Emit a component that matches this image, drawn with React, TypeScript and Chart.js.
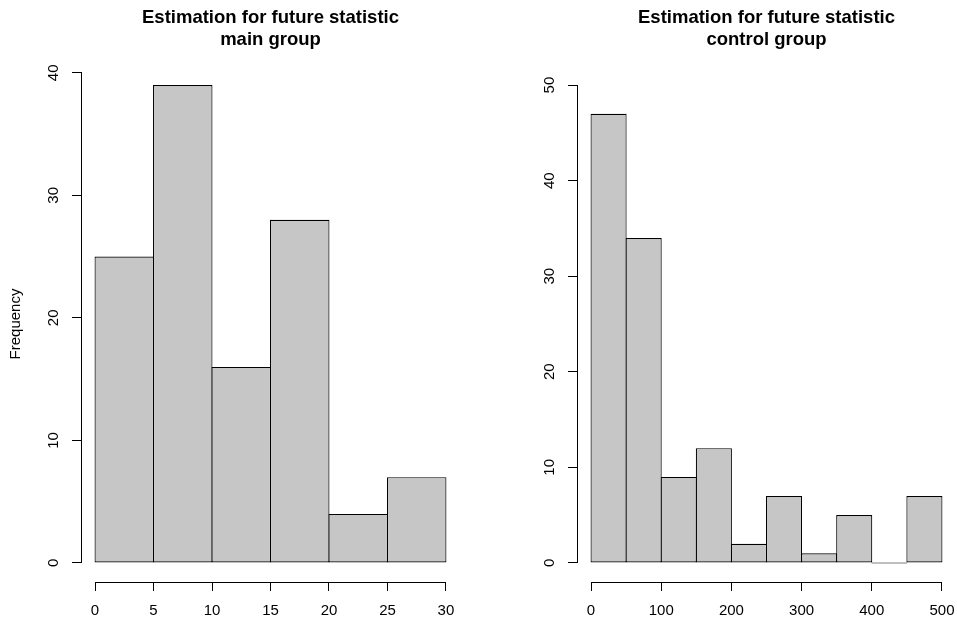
import React, { useEffect, useRef } from 'react';
import { Chart, registerables } from 'chart.js';

Chart.register(...registerables);

const FONT = "'Liberation Sans', Arial, Helvetica, sans-serif";

// ---- data: main group ----
const mainBinStarts = [0, 5, 10, 15, 20, 25];
const mainBinWidth = 5;
const mainCounts = [25, 39, 16, 28, 4, 7];
const mainXTicks = [0, 5, 10, 15, 20, 25, 30];
const mainYTicks = [0, 10, 20, 30, 40];
const mainYLim = [0, 39];

// ---- data: control group ----
const controlBinStarts = [0, 50, 100, 150, 200, 250, 300, 350, 400, 450];
const controlBinWidth = 50;
const controlCounts = [47, 34, 9, 12, 2, 7, 1, 5, 0, 7];
const controlXTicks = [0, 100, 200, 300, 400, 500];
const controlYTicks = [0, 10, 20, 30, 40, 50];
const controlYLim = [0, 50];

// ---- text ----
const titleLine = 'Estimation for future statistic';
const mainSubtitle = 'main group';
const controlSubtitle = 'control group';
const yAxisLabel = 'Frequency';

const BAR_FILL = '#c6c6c6';
const BAR_EDGE = '#000000';

const extend = (lim: number[]) => {
  const d = (lim[1] - lim[0]) * 0.04;
  return [lim[0] - d, lim[1] + d];
};

const alignPx = (p: number) => Math.round(p - 0.5) + 0.5;

const rAxisPlugin = {
  id: 'rAxis',
  afterDraw(chart: any) {
    const { ctx, chartArea, scales } = chart;
    const xs = scales.x;
    const ys = scales.y;
    const xt = xs.ticks.map((t: any) => t.value);
    const yt = ys.ticks.map((t: any) => t.value);
    ctx.save();
    ctx.strokeStyle = '#000';
    ctx.lineWidth = 1;
    ctx.lineCap = 'square';
    ctx.beginPath();
    const yb = alignPx(chartArea.bottom);
    ctx.moveTo(alignPx(xs.getPixelForValue(xt[0])), yb);
    ctx.lineTo(alignPx(xs.getPixelForValue(xt[xt.length - 1])), yb);
    const xl = alignPx(chartArea.left);
    ctx.moveTo(xl, alignPx(ys.getPixelForValue(yt[0])));
    ctx.lineTo(xl, alignPx(ys.getPixelForValue(yt[yt.length - 1])));
    ctx.stroke();
    ctx.restore();
  },
};

interface Panel {
  binStarts: number[];
  binWidth: number;
  counts: number[];
  xTicks: number[];
  yTicks: number[];
  yLim: number[];
  subtitle: string;
  yTitle: string | null;
  yAxisWidth: number;
  padRight: number;
  barPct: number;
}

function makeConfig(p: Panel): any {
  const xLim = [p.binStarts[0], p.binStarts[p.binStarts.length - 1] + p.binWidth];
  const [xMin, xMax] = extend(xLim);
  const [yMin, yMax] = extend(p.yLim);
  return {
    type: 'bar',
    data: {
      datasets: [
        {
          data: p.binStarts.map((s, i) => ({ x: s + p.binWidth / 2, y: p.counts[i] })),
          backgroundColor: BAR_FILL,
          borderColor: BAR_EDGE,
          borderWidth: 1.15,
          borderSkipped: false,
          barPercentage: p.barPct,
          categoryPercentage: 1,
          minBarLength: 1,
        },
      ],
    },
    options: {
      responsive: false,
      animation: false,
      devicePixelRatio: 1,
      layout: { padding: { left: 0, top: 0, right: p.padRight, bottom: 0 } },
      plugins: {
        legend: { display: false },
        tooltip: { enabled: false },
        title: {
          display: true,
          text: [titleLine, p.subtitle],
          fullSize: false,
          color: '#000',
          font: { family: FONT, size: 18.5, weight: 'bold', lineHeight: 1.2 },
          padding: { top: 6.5, bottom: 15.1 },
        },
      },
      scales: {
        x: {
          type: 'linear',
          min: xMin,
          max: xMax,
          offset: false,
          afterBuildTicks: (s: any) => {
            s.ticks = p.xTicks.map((v) => ({ value: v }));
          },
          afterFit: (s: any) => {
            s.height = 40;
            s.paddingLeft = 0;
            s.paddingRight = 0;
          },
          grid: {
            display: true,
            drawOnChartArea: false,
            drawTicks: true,
            tickLength: 9,
            color: '#000',
            lineWidth: 1,
            offset: false,
          },
          border: { display: false },
          ticks: {
            color: '#000',
            font: { family: FONT, size: 15 },
            padding: 11,
            maxRotation: 0,
            minRotation: 0,
            autoSkip: false,
            callback: (v: any) => String(v),
          },
        },
        y: {
          type: 'linear',
          min: yMin,
          max: yMax,
          afterBuildTicks: (s: any) => {
            s.ticks = p.yTicks.map((v) => ({ value: v }));
          },
          afterFit: (s: any) => {
            s.width = p.yAxisWidth;
            s.paddingTop = 0;
            s.paddingBottom = 0;
          },
          grid: {
            display: true,
            drawOnChartArea: false,
            drawTicks: true,
            tickLength: 9,
            color: '#000',
            lineWidth: 1,
          },
          border: { display: false },
          ticks: {
            color: '#000',
            font: { family: FONT, size: 15 },
            padding: 10,
            minRotation: 90,
            maxRotation: 90,
            crossAlign: 'center',
            autoSkip: false,
            callback: (v: any) => String(v),
          },
          title: {
            display: p.yTitle !== null,
            text: p.yTitle ?? '',
            color: '#000',
            font: { family: FONT, size: 15 },
            padding: { top: 6.5, bottom: 0 },
          },
        },
      },
    },
    plugins: [rAxisPlugin],
  };
}

const mainPanel: Panel = {
  binStarts: mainBinStarts,
  binWidth: mainBinWidth,
  counts: mainCounts,
  xTicks: mainXTicks,
  yTicks: mainYTicks,
  yLim: mainYLim,
  subtitle: mainSubtitle,
  yTitle: yAxisLabel,
  yAxisWidth: 81,
  padRight: 18,
  barPct: 1.017,
};

const controlPanel: Panel = {
  binStarts: controlBinStarts,
  binWidth: controlBinWidth,
  counts: controlCounts,
  xTicks: controlXTicks,
  yTicks: controlYTicks,
  yLim: controlYLim,
  subtitle: controlSubtitle,
  yTitle: null,
  yAxisWidth: 99,
  padRight: 1,
  barPct: 1.0285,
};

export default function App() {
  const leftRef = useRef<HTMLCanvasElement | null>(null);
  const rightRef = useRef<HTMLCanvasElement | null>(null);

  useEffect(() => {
    const a = new Chart(leftRef.current as HTMLCanvasElement, makeConfig(mainPanel));
    const b = new Chart(rightRef.current as HTMLCanvasElement, makeConfig(controlPanel));
    return () => {
      a.destroy();
      b.destroy();
    };
  }, []);

  return (
    <div style={{ position: 'fixed', left: 0, top: 0, width: 957, height: 622, background: '#fff' }}>
      <canvas ref={leftRef} width={478} height={622} style={{ position: 'absolute', left: 0, top: 0 }} />
      <canvas ref={rightRef} width={479} height={622} style={{ position: 'absolute', left: 478, top: 0 }} />
    </div>
  );
}
